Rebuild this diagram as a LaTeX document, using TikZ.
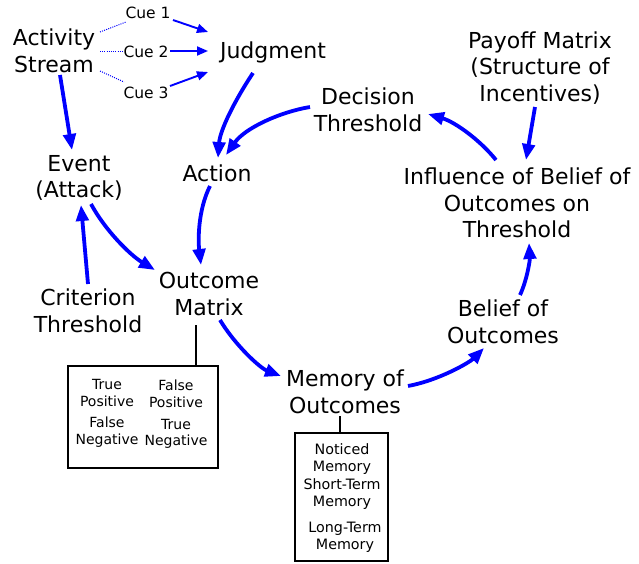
\documentclass[tikz,border=0pt]{standalone}
\usepackage{fontspec}
\setmainfont{DejaVu Sans}
\usetikzlibrary{arrows.meta}
\begin{document}
\begin{tikzpicture}[x=1pt,y=-1pt,
  lbl/.style={font=\fontsize{22}{26.5}\selectfont, align=center, inner sep=0pt},
  cue/.style={font=\fontsize{15.5}{18}\selectfont, inner sep=0pt},
  small/.style={font=\fontsize{14}{16.5}\selectfont, align=center, inner sep=0pt},
  smallm/.style={font=\fontsize{14.3}{17.2}\selectfont, align=center, inner sep=0pt},
  thickarrow/.style={draw=blue, line width=3.8pt, -{Triangle[length=16pt,width=12.5pt]}},
  thinarrow/.style={draw=blue, line width=1.9pt, -{Triangle[length=11pt,width=9pt]}},
  dotline/.style={draw=blue, line width=1pt, dash pattern=on 1pt off 1.2pt},
  boxed/.style={draw=black, line width=1.3pt, inner sep=0pt},
  stem/.style={draw=black, line width=1.5pt}]
\useasboundingbox (0,0) rectangle (639,563);

% main labels
\node[lbl] (act) at (54,51) {Activity\\Stream};
\node[cue] (cue1) at (148,13) {Cue 1};
\node[cue] (cue2) at (146,52) {Cue 2};
\node[cue] (cue3) at (146,93) {Cue 3};
\node[lbl] (judg) at (273,52) {Judgment};
\node[lbl] (dec) at (368,110) {Decision\\Threshold};
\node[lbl] (pay) at (540,68) {Payoff Matrix\\(Structure of\\Incentives)};
\node[lbl] (infl) at (517,203) {Influence of Belief of\\Outcomes on\\Threshold};
\node[lbl] (bel) at (503,322) {Belief of\\Outcomes};
\node[lbl] (mem) at (345,392) {Memory of\\Outcomes};
\node[lbl] (outc) at (209,294) {Outcome\\Matrix};
\node[lbl] (crit) at (88,311) {Criterion\\Threshold};
\node[lbl] (event) at (79,178) {Event\\(Attack)};
\node[lbl] (action) at (217,173) {Action};

% boxes
\node[boxed, minimum width=150pt, minimum height=102pt] (ombox) at (143,417) {};
\node[boxed, minimum width=93pt, minimum height=128pt] (membox) at (341.5,497) {};

\node[small] (tp) at (107,393) {True\\Positive};
\node[small] (fp) at (176,394) {False\\Positive};
\node[small] (fn) at (107,432) {False\\Negative};
\node[small] (tn) at (176,434) {True\\Negative};

\node[smallm] (nm) at (342,459) {Noticed\\Memory};
\node[smallm] (stm) at (342,494) {Short-Term\\Memory};
\node[smallm] (ltm) at (345,537) {Long-Term\\Memory};

% stems
\draw[stem] ([shift={(-13,31)}]outc.center) -- ([shift={(53,0)}]ombox.north);
\draw[stem] ([shift={(-5,24)}]mem.center) -- ([shift={(-1.5,0)}]membox.north);

% dotted lines to cues
\draw[dotline] ([shift={(46,-19)}]act.center) -- ([shift={(-22,9)}]cue1.center);
\draw[dotline] ([shift={(46,0)}]act.center) -- ([shift={(-22,-1)}]cue2.center);
\draw[dotline] ([shift={(46,20)}]act.center) -- ([shift={(-22,-11)}]cue3.center);

% cue arrows
\draw[thinarrow] ([shift={(25,7)}]cue1.center) -- ([shift={(-65,-20)}]judg.center);
\draw[thinarrow] ([shift={(24,-1)}]cue2.center) -- ([shift={(-65,-1)}]judg.center);
\draw[thinarrow] ([shift={(24,-7)}]cue3.center) -- ([shift={(-65,20)}]judg.center);

% thick arrows
\draw[thickarrow] ([shift={(6,24)}]act.center) -- ([shift={(-7,-28)}]event.center);
\draw[thickarrow] ([shift={(-20,21)}]judg.center) .. controls +(-18,27) and +(2,-28) .. ([shift={(1,-15)}]action.center);
\draw[thickarrow] ([shift={(-58,-3)}]dec.center) .. controls +(-30,5) and +(19,-27) .. ([shift={(9,-18)}]action.center);
\draw[thickarrow] ([shift={(-7,13)}]action.center) .. controls +(-12,24) and +(-3,-25) .. ([shift={(-8,-29)}]outc.center);
\draw[thickarrow] ([shift={(12,26)}]event.center) .. controls +(14,26) and +(-25,-15) .. ([shift={(-54,-24)}]outc.center);
\draw[thickarrow] ([shift={(0,-27)}]crit.center) -- ([shift={(2,27)}]event.center);
\draw[thickarrow] ([shift={(11,26)}]outc.center) .. controls +(15,25) and +(-21,-8) .. ([shift={(-64,-16)}]mem.center);
\draw[thickarrow] ([shift={(63,-6)}]mem.center) .. controls +(32,-6) and +(-14,14) .. ([shift={(-19,26)}]bel.center);
\draw[thickarrow] ([shift={(17,-27)}]bel.center) .. controls +(7,-15) and +(1,17) .. ([shift={(12,40)}]infl.center);
\draw[thickarrow] ([shift={(-21,-43)}]infl.center) .. controls +(-16,-20) and +(27,8) .. ([shift={(60,4)}]dec.center);
\draw[thickarrow] ([shift={(-5,39)}]pay.center) -- ([shift={(9,-43)}]infl.center);
\end{tikzpicture}
\end{document}
